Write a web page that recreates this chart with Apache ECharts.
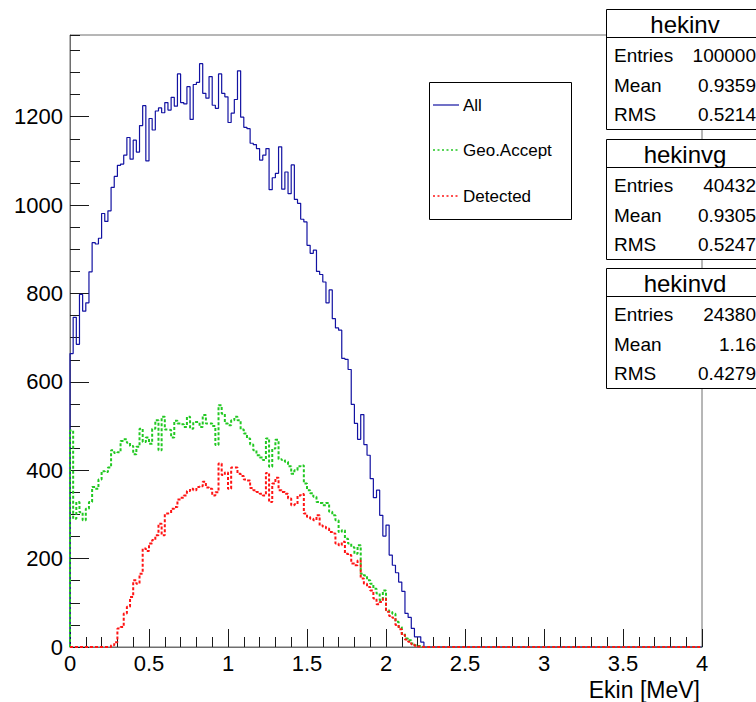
<!DOCTYPE html>
<html>
<head>
<meta charset="utf-8">
<script src="https://cdn.jsdelivr.net/npm/echarts@6/dist/echarts.min.js"></script>
<style>
html,body{margin:0;padding:0;background:#fff;}
#chart{width:756px;height:702px;}
</style>
</head>
<body>
<div id="chart"></div>
<script>
// ---- histogram settings (200 bins, 0..4 MeV) ----
const xMin = 0, xMax = 4, nBins = 200;
const binWidth = (xMax - xMin) / nBins;
const yMax = 1385;
const xTickLabels = ['0','0.5','1','1.5','2','2.5','3','3.5','4'];
const yTickLabels = ['0','200','400','600','800','1000','1200'];
const seriesNames = ['All', 'Geo.Accept', 'Detected'];

// ---- bin contents ----
const allCounts = [
  664, 746, 685, 798, 760, 779, 849, 915, 912, 925,
  981, 963, 987,1040,1065,1090,1093,1113,1153,1104,
 1147,1120,1180,1225,1100,1196,1170,1213,1220,1209,
 1232,1215,1244,1224,1297,1232,1229,1268,1194,1273,
 1278,1320,1253,1242,1291,1226,1219,1297,1253,1245,
 1187,1208,1239,1304,1199,1176,1173,1140,1137,1128,
 1102,1113,1128,1035,1062,1072,1132,1036,1075,1026,
 1091,1013,1004, 968, 962, 909, 891, 898, 850, 843,
  826, 779, 808, 743, 722, 717, 653, 651, 628, 549,
  506, 470, 526, 458, 434, 381, 338, 355, 298, 251,
  276, 208, 185, 168, 147, 126,  76,  67,  42,  23,
   23,  11,   0,   0,   0,   0,   0,   0,   0,   0,
    0,   0,   0,   0,   0,   0,   0,   0,   0,   0,
    0,   0,   0,   0,   0,   0,   0,   0,   0,   0,
    0,   0,   0,   0,   0,   0,   0,   0,   0,   0,
    0,   0,   0,   0,   0,   0,   0,   0,   0,   0,
    0,   0,   0,   0,   0,   0,   0,   0,   0,   0,
    0,   0,   0,   0,   0,   0,   0,   0,   0,   0,
    0,   0,   0,   0,   0,   0,   0,   0,   0,   0,
    0,   0,   0,   0,   0,   0,   0,   0,   0,   0
];
const geoCounts = [
  490, 290, 328, 305, 287, 313, 328, 362, 358, 379,
  398, 396, 406, 445, 439, 441, 466, 470, 462, 455,
  436, 453, 494, 464, 474, 460, 494, 513, 445, 521,
  492, 491, 474, 512, 506, 504, 498, 521, 494, 509,
  509, 498, 525, 506, 506, 500, 457, 547, 528, 506,
  502, 513, 521, 513, 492, 483, 472, 458, 445, 434,
  429, 423, 472, 408, 449, 469, 425, 423, 419, 409,
  392, 400, 409, 411, 370, 355, 348, 340, 328, 326,
  321, 326, 306, 298, 287, 260, 264, 245, 234, 226,
  211, 230, 166, 162, 151, 143, 132, 121, 106, 128,
   83,  79,  75,  57,  45,  30,  19,  15,   8,   4,
    2,   0,   0,   0,   0,   0,   0,   0,   0,   0,
    0,   0,   0,   0,   0,   0,   0,   0,   0,   0,
    0,   0,   0,   0,   0,   0,   0,   0,   0,   0,
    0,   0,   0,   0,   0,   0,   0,   0,   0,   0,
    0,   0,   0,   0,   0,   0,   0,   0,   0,   0,
    0,   0,   0,   0,   0,   0,   0,   0,   0,   0,
    0,   0,   0,   0,   0,   0,   0,   0,   0,   0,
    0,   0,   0,   0,   0,   0,   0,   0,   0,   0,
    0,   0,   0,   0,   0,   0,   0,   0,   0,   0
];
const detCounts = [
    0,   0,   0,   0,   0,   0,   0,   0,   0,   0,
    0,   0,   0,   4,  11,  42,  45,  76,  91, 113,
  151, 143, 166, 223, 217, 234, 242, 253, 279, 253,
  302, 303, 313, 317, 334, 338, 343, 353, 358, 355,
  362, 364, 374, 361, 358, 343, 350, 415, 389, 395,
  358, 406, 406, 392, 387, 379, 377, 360, 355, 351,
  347, 343, 394, 328, 370, 383, 355, 351, 347, 336,
  321, 323, 343, 346, 302, 294, 290, 287, 298, 275,
  272, 268, 260, 257, 234, 230, 238, 211, 208, 189,
  185, 196, 155, 143, 136, 128, 110,  97, 102, 110,
   80,  70,  66,  50,  40,  27,  17,  12,   6,   3,
    1,   0,   0,   0,   0,   0,   0,   0,   0,   0,
    0,   0,   0,   0,   0,   0,   0,   0,   0,   0,
    0,   0,   0,   0,   0,   0,   0,   0,   0,   0,
    0,   0,   0,   0,   0,   0,   0,   0,   0,   0,
    0,   0,   0,   0,   0,   0,   0,   0,   0,   0,
    0,   0,   0,   0,   0,   0,   0,   0,   0,   0,
    0,   0,   0,   0,   0,   0,   0,   0,   0,   0,
    0,   0,   0,   0,   0,   0,   0,   0,   0,   0,
    0,   0,   0,   0,   0,   0,   0,   0,   0,   0
];

// ---- statistics boxes ----
const statNames = ['hekinv', 'hekinvg', 'hekinvd'];
const statRowLabels = ['Entries', 'Mean', 'RMS'];
const statValues = [
  ['100000', '0.9359', '0.5214'],
  ['40432', '0.9305', '0.5247'],
  ['24380', '1.16', '0.4279']
];

const colors = ['#1212a2', '#22c822', '#ff1414'];
const FONT = '"Liberation Sans", Arial, Helvetica, sans-serif';

function histPoints(counts) {
  const pts = [[xMin, 0]];
  counts.forEach((c, i) => pts.push([xMin + i * binWidth, c]));
  pts.push([xMin + counts.length * binWidth, counts[counts.length - 1]]);
  return pts;
}

const chart = echarts.init(document.getElementById('chart'), null, {renderer: 'svg'});

// stat boxes
const graphics = [];
const boxTops = [9, 139, 268];
const boxLeft = 606.5, boxW = 160, boxH = 120;
statNames.forEach((name, b) => {
  const top = boxTops[b] + 0.5;
  graphics.push({type: 'rect', z: 100, shape: {x: boxLeft, y: top, width: boxW, height: boxH},
    style: {fill: '#fff', stroke: '#000', lineWidth: 1}});
  graphics.push({type: 'line', z: 101, shape: {x1: boxLeft, y1: top + 28, x2: boxLeft + boxW, y2: top + 28},
    style: {stroke: '#000', lineWidth: 1}});
  graphics.push({type: 'text', z: 102, x: 685, y: top + 15,
    style: {text: name, font: '24px ' + FONT, fill: '#000', textAlign: 'center', textVerticalAlign: 'middle'}});
  statRowLabels.forEach((lab, r) => {
    const yy = top + 46 + r * 29.5;
    graphics.push({type: 'text', z: 102, x: 614, y: yy,
      style: {text: lab, font: '19px ' + FONT, fill: '#000', textAlign: 'left', textVerticalAlign: 'middle'}});
    graphics.push({type: 'text', z: 102, x: 756, y: yy,
      style: {text: statValues[b][r], font: '19px ' + FONT, fill: '#000', textAlign: 'right', textVerticalAlign: 'middle'}});
  });
});

// legend box
graphics.push({type: 'rect', z: 100, shape: {x: 429.5, y: 82.5, width: 142, height: 137},
  style: {fill: '#fff', stroke: '#000', lineWidth: 1}});
const legendY = [105, 150, 196];
seriesNames.forEach((nm, i) => {
  graphics.push({type: 'line', z: 101, shape: {x1: 433, y1: legendY[i], x2: 459, y2: legendY[i]},
    style: {stroke: colors[i], lineWidth: i === 0 ? 1.2 : 1.6, lineDash: i === 0 ? null : [2, 2.5]}});
  graphics.push({type: 'text', z: 102, x: 463, y: legendY[i],
    style: {text: nm, font: '17px ' + FONT, fill: '#000', textAlign: 'left', textVerticalAlign: 'middle'}});
});

const axisLabelStyle = {fontSize: 22, color: '#000', fontFamily: FONT};

const option = {
  animation: false,
  backgroundColor: '#fff',
  grid: {left: 70, right: 54, top: 35, bottom: 55, show: true, borderColor: '#6e6e6e', borderWidth: 1, backgroundColor: 'transparent'},
  xAxis: [{
    type: 'value', min: xMin, max: xMax, interval: 0.5,
    axisLine: {show: true, lineStyle: {color: '#6e6e6e', width: 1}},
    axisTick: {show: true, inside: true, length: 18, lineStyle: {color: '#1a1a1a', width: 1}},
    minorTick: {show: true, splitNumber: 5, length: 10, lineStyle: {color: '#1a1a1a', width: 1}},
    splitLine: {show: false}, minorSplitLine: {show: false},
    axisLabel: Object.assign({margin: 5, formatter: v => xTickLabels[Math.round(v / 0.5)]}, axisLabelStyle),
    name: 'Ekin [MeV]', nameLocation: 'end', nameGap: 0,
    nameTextStyle: {fontSize: 23, color: '#000', fontFamily: FONT, align: 'right', verticalAlign: 'top', padding: [31, 2, 0, 0]}
  }],
  yAxis: [{
    type: 'value', min: 0, max: yMax, interval: 200, position: 'left',
    axisLine: {show: true, lineStyle: {color: '#6e6e6e', width: 1}},
    axisTick: {show: true, inside: true, length: 19, lineStyle: {color: '#1a1a1a', width: 1}},
    splitLine: {show: false},
    axisLabel: Object.assign({margin: 7, showMaxLabel: false,
      formatter: v => { const k = Math.round(v / 200); return (Math.abs(v - k * 200) < 1e-6 && yTickLabels[k]) ? yTickLabels[k] : ''; }}, axisLabelStyle)
  }, {
    type: 'value', min: 0, max: yMax, interval: 50, position: 'left', offset: 0,
    axisLine: {show: false},
    axisTick: {show: true, inside: true, length: 10, lineStyle: {color: '#1a1a1a', width: 1}},
    splitLine: {show: false},
    axisLabel: {show: false}
  }],
  series: [
    {name: seriesNames[0], type: 'line', step: 'end', showSymbol: false, symbol: 'none', data: histPoints(allCounts),
     lineStyle: {color: colors[0], width: 1.2}, z: 2},
    {name: seriesNames[1], type: 'line', step: 'end', showSymbol: false, symbol: 'none', data: histPoints(geoCounts),
     lineStyle: {color: colors[1], width: 2, type: [3, 2]}, z: 3},
    {name: seriesNames[2], type: 'line', step: 'end', showSymbol: false, symbol: 'none', data: histPoints(detCounts),
     lineStyle: {color: colors[2], width: 2, type: [3, 2]}, z: 4}
  ],
  graphic: graphics
};
chart.setOption(option);
</script>
</body>
</html>
